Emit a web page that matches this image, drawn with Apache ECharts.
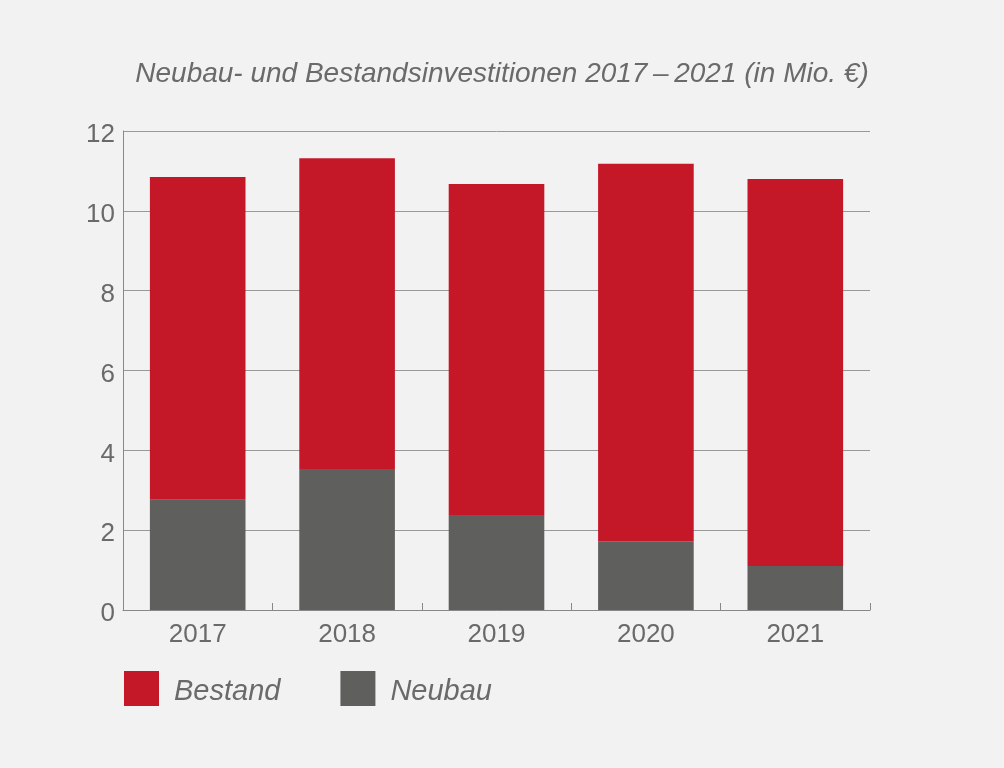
<!DOCTYPE html>
<html>
<head>
<meta charset="utf-8">
<title>Neubau- und Bestandsinvestitionen</title>
<style>
html,body{margin:0;padding:0;background:#f2f2f2;}
#main{width:1004px;height:768px;}
</style>
</head>
<body>
<div id="main"></div>
<script src="https://cdn.jsdelivr.net/npm/echarts@6/dist/echarts.min.js"></script>
<script>
var years=['2017','2018','2019','2020','2021'];
var bestand=[8.09,7.79,8.29,9.46,9.70];
var neubau=[2.76,3.53,2.38,1.72,1.10];
var colors=['#c41829','#5f5f5d'];
var font='Liberation Sans';

var myChart=echarts.init(document.getElementById('main'));
var option={
  backgroundColor:'#f2f2f2',
  animation:false,
  title:{
    text:'Neubau- und Bestandsinvestitionen 2017\u2009\u2013\u20092021 (in Mio. \u20ac)',
    left:'center',
    top:55,
    textStyle:{fontFamily:font,fontSize:28,fontStyle:'italic',fontWeight:'normal',color:'#6a6a6a'}
  },
  legend:{
    left:119,
    top:666,
    itemWidth:35,
    itemHeight:35,
    itemGap:60,
    icon:'rect',
    formatter:function(name){return '{t|'+name+'}';},
    textStyle:{
      fontFamily:font,fontSize:29,fontStyle:'italic',color:'#6a6a6a',
      rich:{t:{fontFamily:font,fontSize:29,fontStyle:'italic',color:'#6a6a6a',padding:[7,0,0,10]}}
    },
    data:['Bestand','Neubau']
  },
  grid:{left:123,right:134,top:131,bottom:158},
  xAxis:{
    type:'category',
    data:years,
    axisLine:{lineStyle:{color:'#888',width:1}},
    axisTick:{show:true,inside:true,length:7,lineStyle:{color:'#888'}},
    axisLabel:{fontFamily:font,fontSize:26,color:'#6a6a6a',margin:12}
  },
  yAxis:{
    type:'value',
    min:0,max:12,interval:2,
    axisLine:{show:true,lineStyle:{color:'#888',width:1}},
    axisTick:{show:false},
    splitLine:{lineStyle:{color:'#999',width:1}},
    axisLabel:{
      margin:8,
      formatter:function(v){return '{n|'+v+'}';},
      rich:{n:{fontFamily:font,fontSize:26,color:'#6a6a6a',padding:[8,0,0,0]}}
    }
  },
  series:[
    {name:'Neubau',type:'bar',stack:'a',barWidth:'64%',itemStyle:{color:colors[1]},data:neubau,z:3},
    {name:'Bestand',type:'bar',stack:'a',barWidth:'64%',itemStyle:{color:colors[0]},data:bestand,z:3}
  ]
};
myChart.setOption(option);
</script>
</body>
</html>
